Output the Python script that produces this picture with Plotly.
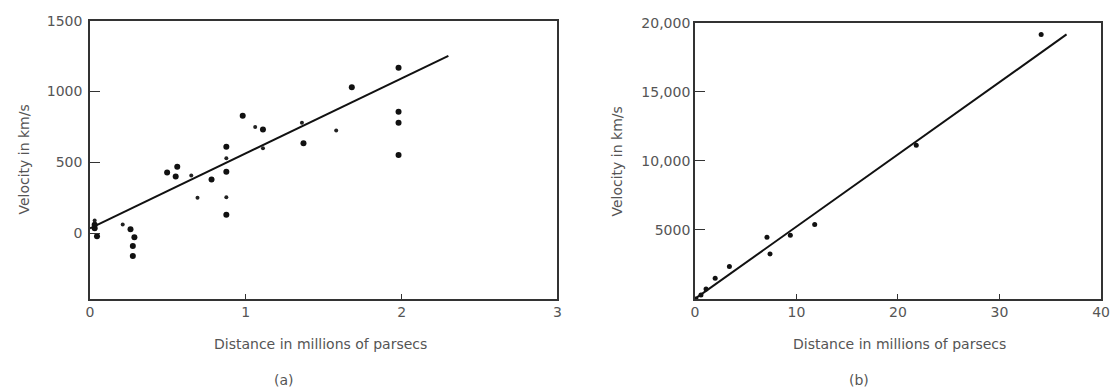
import plotly.graph_objects as go

# ---- Panel (a): Hubble 1929 data ----
a_big_x = [0.03, 0.045, 0.26, 0.285, 0.275, 0.275, 0.495, 0.56, 0.55, 0.78, 0.875, 0.875, 0.875,
           0.98, 1.11, 1.37, 1.68, 1.98, 1.98, 1.98, 1.98, 0.03]
a_big_y = [35, -20, 28, -28, -90, -160, 429, 470, 400, 380, 610, 435, 130,
           830, 733, 635, 1030, 1168, 857, 780, 553, 60]
a_small_x = [0.03, 0.21, 0.65, 0.69, 0.875, 0.875, 1.06, 1.11, 1.36, 1.58]
a_small_y = [90, 62, 408, 250, 530, 255, 750, 600, 780, 726]
a_fit_x = [0.0, 2.30]
a_fit_y = [35, 1252]

# ---- Panel (b): Hubble & Humason 1931 data ----
b_x = [0.1, 0.6, 1.1, 2.0, 3.4, 7.1, 7.4, 9.4, 11.8, 21.8, 34.1]
b_y = [0, 280, 710, 1490, 2340, 4470, 3260, 4610, 5390, 11130, 19150]
b_fit_x = [0.0, 36.6]
b_fit_y = [0, 19150]

a_xticks = [0, 1, 2, 3]
a_yticks = [0, 500, 1000, 1500]
b_xticks = [0, 10, 20, 30, 40]
b_yticks = [5000, 10000, 15000, 20000]
b_yticktext = ["5000", "10,000", "15,000", "20,000"]

W, H = 1117, 390
FONT = "DejaVu Sans"
FS = 14
TXT = "#555555"
LINE = "#333333"

def px(x):
    return x / W

def py(y):
    return 1 - y / H

fig = go.Figure()

fig.add_trace(go.Scatter(x=a_fit_x, y=a_fit_y, mode="lines", line=dict(color="#111", width=2),
                         xaxis="x", yaxis="y", hoverinfo="skip"))
fig.add_trace(go.Scatter(x=a_big_x, y=a_big_y, mode="markers",
                         marker=dict(color="#111", size=6), xaxis="x", yaxis="y"))
fig.add_trace(go.Scatter(x=a_small_x, y=a_small_y, mode="markers",
                         marker=dict(color="#222", size=4), xaxis="x", yaxis="y"))

fig.add_trace(go.Scatter(x=b_fit_x, y=b_fit_y, mode="lines", line=dict(color="#111", width=2),
                         xaxis="x2", yaxis="y2", hoverinfo="skip"))
fig.add_trace(go.Scatter(x=b_x, y=b_y, mode="markers",
                         marker=dict(color="#111", size=5), xaxis="x2", yaxis="y2"))

axis_common = dict(showgrid=False, zeroline=False, showline=True, mirror=True,
                   linecolor=LINE, linewidth=1.5, ticks="inside", tickcolor=LINE,
                   tickfont=dict(family=FONT, size=FS, color=TXT))

fig.update_layout(
    width=W, height=H,
    margin=dict(l=0, r=0, t=0, b=0),
    paper_bgcolor="white", plot_bgcolor="white",
    showlegend=False,
    xaxis=dict(domain=[px(87), px(560)], range=[0, 3], tickvals=a_xticks,
               ticklen=5, anchor="y", **axis_common),
    yaxis=dict(domain=[py(297), py(13)], range=[-463, 1500], tickvals=a_yticks,
               ticklen=10, anchor="x", ticklabelstandoff=3, **axis_common),
    xaxis2=dict(domain=[px(699), px(1110)], range=[0, 40], tickvals=b_xticks,
                ticklen=5, anchor="y2", **axis_common),
    yaxis2=dict(domain=[py(297), py(15)], range=[0, 20000], tickvals=b_yticks,
                ticktext=b_yticktext, ticklen=10, anchor="x2", **axis_common),
)

ann_font = dict(family=FONT, size=FS, color=TXT)
anns = [
    dict(x=px(20), y=py(155), text="Velocity in km/s", textangle=-90),
    dict(x=px(620), y=py(157), text="Velocity in km/s", textangle=-90),
    dict(x=px(320), y=py(343), text="Distance in millions of parsecs"),
    dict(x=px(906), y=py(343), text="Distance in millions of parsecs"),
    dict(x=px(283), y=py(380), text="(a)"),
    dict(x=px(865), y=py(380), text="(b)"),
]
for a in anns:
    fig.add_annotation(xref="paper", yref="paper", showarrow=False,
                       xanchor="center", yanchor="middle", font=ann_font, **a)

fig.write_html("out.html")
